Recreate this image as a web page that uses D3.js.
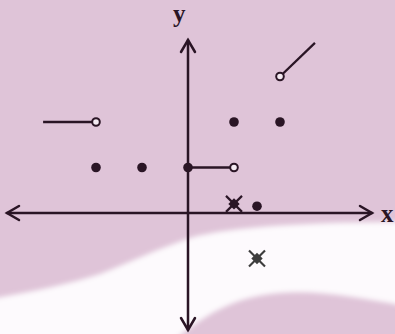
<!DOCTYPE html>
<html><head><meta charset="utf-8">
<script src="https://cdn.jsdelivr.net/npm/d3@7"></script>
<style>html,body{margin:0;padding:0;background:#dfc4d8;}svg{display:block;}</style>
</head><body>
<svg id="c" width="395" height="334"></svg>
<script>
// data
const filledDots = [[-2,1],[-1,1],[0,1],[1,2],[2,2],[1.5,0.15]];
const openDots = [[-2,2],[1,1],[2,3]];
const segments = [[[-3.15,2],[-2,2]],[[0,1],[1,1]],[[2,3],[2.76,3.74]]];
const crosses = [[1,0.2,"#2a1525"],[1.5,-1,"#3d3d3d"]];
const axisLabels = ["x","y"];

const W=395,H=334;
const x = d3.scaleLinear().domain([-4,4]).range([4,372]);
const y = d3.scaleLinear().domain([0,1]).range([213,167.5]);
const svg = d3.select("#c");
const ink = "#2a1525", bg="#dfc4d8";

// background wave
svg.append("rect").attr("width",W).attr("height",H).attr("fill",bg);
const defs = svg.append("defs");
defs.append("filter").attr("id","blur").append("feGaussianBlur").attr("stdDeviation",2.5);
svg.append("path").attr("fill","#fdfafd").attr("filter","url(#blur)")
  .attr("d","M-10,299 C30,292 70,284 100,274 C130,262 160,248 190,238 C230,226 320,222 405,222 L405,306 C360,298 320,290 280,293 C240,296 210,310 175,340 L-10,340 Z");

// axes
const axisG = svg.append("g").attr("stroke",ink).attr("stroke-width",2.5).attr("fill","none").attr("stroke-linecap","round");
axisG.append("line").attr("x1",x(-4)+3).attr("x2",x(4)).attr("y1",y(0)).attr("y2",y(0));
axisG.append("line").attr("x1",x(0)).attr("x2",x(0)).attr("y1",40).attr("y2",330);
const ah = 12, aw = 7;
axisG.append("path").attr("d",`M${x(4)-ah},${y(0)-aw} L${x(4)},${y(0)} L${x(4)-ah},${y(0)+aw}`);
axisG.append("path").attr("d",`M${x(-4)+3+ah},${y(0)-aw} L${x(-4)+3},${y(0)} L${x(-4)+3+ah},${y(0)+aw}`);
axisG.append("path").attr("d",`M${x(0)-aw},${40+ah} L${x(0)},40 L${x(0)+aw},${40+ah}`);
axisG.append("path").attr("d",`M${x(0)-aw},${330-ah} L${x(0)},330 L${x(0)+aw},${330-ah}`);

svg.append("text").attr("x",381).attr("y",222).text(axisLabels[0])
  .attr("font-family","Liberation Serif, serif").attr("font-weight","bold").attr("font-size",25).attr("fill",ink);
svg.append("text").attr("x",173).attr("y",22).text(axisLabels[1])
  .attr("font-family","Liberation Serif, serif").attr("font-weight","bold").attr("font-size",25).attr("fill",ink);

// segments
svg.selectAll(".seg").data(segments).join("line").attr("class","seg")
  .attr("x1",d=>x(d[0][0])).attr("y1",d=>y(d[0][1])).attr("x2",d=>x(d[1][0])).attr("y2",d=>y(d[1][1]))
  .attr("stroke",ink).attr("stroke-width",2.3);

// filled
svg.selectAll(".fd").data(filledDots).join("circle").attr("class","fd")
  .attr("cx",d=>x(d[0])).attr("cy",d=>y(d[1])).attr("r",4.8).attr("fill",ink);
// open
svg.selectAll(".od").data(openDots).join("circle").attr("class","od")
  .attr("cx",d=>x(d[0])).attr("cy",d=>y(d[1])).attr("r",3.8).attr("fill","#f4eaf2").attr("stroke",ink).attr("stroke-width",2);

// crosses
crosses.forEach(([cx,cy,col])=>{
  const px=x(cx), py=y(cy), s=8;
  const g=svg.append("g").attr("stroke",col).attr("stroke-width",2.2);
  g.append("line").attr("x1",px-s).attr("y1",py-s).attr("x2",px+s).attr("y2",py+s);
  g.append("line").attr("x1",px-s).attr("y1",py+s).attr("x2",px+s).attr("y2",py-s);
  svg.append("rect").attr("x",px-4).attr("y",py-4).attr("width",8).attr("height",8).attr("fill",col).attr("transform",`rotate(45,${px},${py})`);
});
</script>
</body></html>
